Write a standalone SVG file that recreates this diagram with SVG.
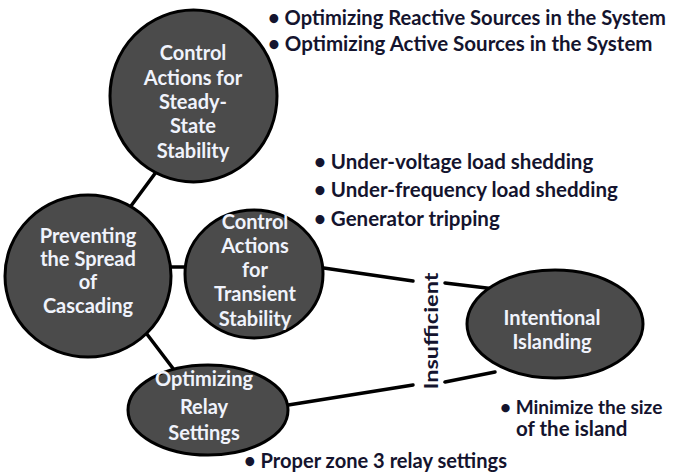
<svg xmlns="http://www.w3.org/2000/svg" width="674" height="476" viewBox="0 0 674 476">
<style>
.node{fill:#4b4b4b;stroke:#000;stroke-width:3}
.nt{font-family:Lato,"Open Sans","Liberation Sans",sans-serif;font-weight:bold;font-size:20px;fill:#f0f3fc;text-anchor:middle}
.lt{font-family:Lato,"Open Sans","Liberation Sans",sans-serif;font-weight:bold;font-size:20.5px;fill:#14142e}
.conn line{stroke:#000;stroke-width:3.5;stroke-linecap:round}
</style>
<rect width="674" height="476" fill="#fff"/>
<g id="connectors" class="conn">
<line x1="165" y1="160" x2="128" y2="210"/>
<line x1="160" y1="267" x2="195" y2="267"/>
<line x1="140" y1="325" x2="178" y2="375"/>
<line x1="310" y1="266" x2="413" y2="281"/>
<line x1="445" y1="283" x2="495" y2="289"/>
<line x1="282" y1="406" x2="413" y2="385"/>
<line x1="445" y1="382" x2="495" y2="372"/>
</g>
<g id="node-steady">
<ellipse class="node" cx="193.5" cy="96" rx="83.5" ry="86"/>
<text class="nt" x="193" y="60">Control</text>
<text class="nt" x="193" y="85">Actions for</text>
<text class="nt" x="193" y="109">Steady-</text>
<text class="nt" x="193" y="133">State</text>
<text class="nt" x="193" y="158">Stability</text>
</g>
<g id="node-preventing">
<ellipse class="node" cx="88" cy="276" rx="83" ry="81"/>
<text class="nt" x="88" y="243">Preventing</text>
<text class="nt" x="88" y="266">the Spread</text>
<text class="nt" x="88" y="289">of</text>
<text class="nt" x="88" y="313">Cascading</text>
</g>
<g id="node-transient">
<ellipse class="node" cx="254" cy="274" rx="69" ry="64"/>
<text class="nt" x="255" y="229">Control</text>
<text class="nt" x="255" y="253">Actions</text>
<text class="nt" x="255" y="277">for</text>
<text class="nt" x="255" y="301">Transient</text>
<text class="nt" x="255" y="326">Stability</text>
</g>
<g id="node-relay">
<ellipse class="node" cx="208" cy="410" rx="80" ry="45"/>
<text class="nt" x="204" y="386">Optimizing</text>
<text class="nt" x="204" y="414">Relay</text>
<text class="nt" x="204" y="440">Settings</text>
</g>
<g id="node-islanding">
<ellipse class="node" cx="555" cy="324" rx="88" ry="54"/>
<text class="nt" x="552" y="325">Intentional</text>
<text class="nt" x="552" y="349">Islanding</text>
</g>
<g id="label-insufficient">
<text class="lt" transform="translate(438,331) rotate(-90)" text-anchor="middle" style="font-size:19px" textLength="117" lengthAdjust="spacingAndGlyphs">Insufficient</text>
</g>
<g id="notes">
<text class="lt" x="268" y="25" textLength="398" lengthAdjust="spacingAndGlyphs">• Optimizing Reactive Sources in the System</text>
<text class="lt" x="268" y="51">• Optimizing Active Sources in the System</text>
<text class="lt" x="314" y="169">• Under-voltage load shedding</text>
<text class="lt" x="314" y="197">• Under-frequency load shedding</text>
<text class="lt" x="314" y="226">• Generator tripping</text>
<text class="lt" x="500" y="414" style="font-size:19px">• Minimize the size</text>
<text class="lt" x="516" y="436">of the island</text>
<text class="lt" x="244" y="468" textLength="263" lengthAdjust="spacingAndGlyphs">• Proper zone 3 relay settings</text>
</g>
</svg>
